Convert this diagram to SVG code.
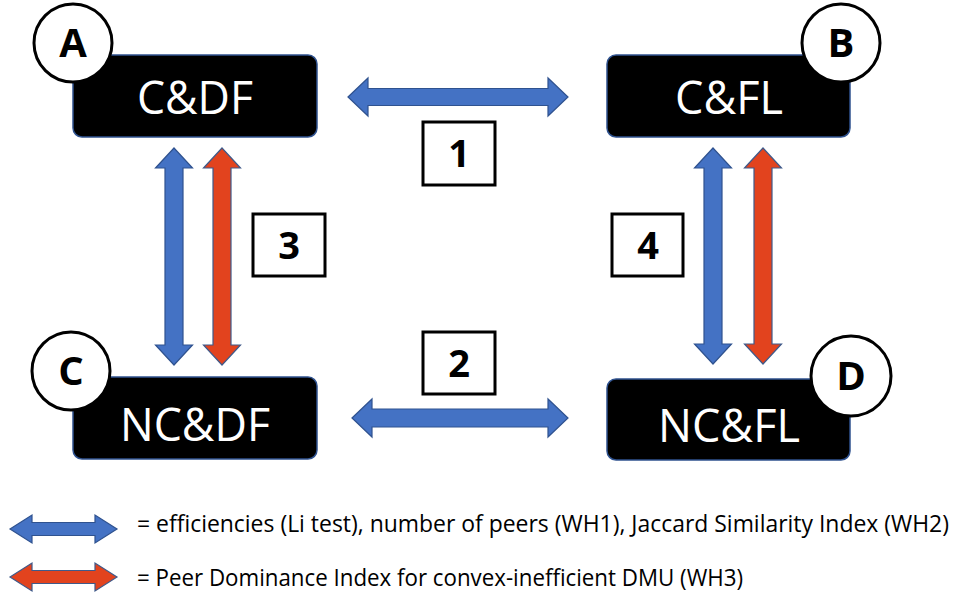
<svg xmlns="http://www.w3.org/2000/svg" width="957" height="600" viewBox="0 0 957 600">
<style>
.box{fill:#000;stroke:#2F528F;stroke-width:1.5}
.nodetxt{font-family:"Open Sans","Liberation Sans",sans-serif;font-size:45px;fill:#fff;text-anchor:middle}
.circ{fill:#fff;stroke:#000;stroke-width:3}
.letter{font-family:"Open Sans","Liberation Sans",sans-serif;font-weight:bold;font-size:40px;fill:#000;text-anchor:middle}
.numbox{fill:#fff;stroke:#000;stroke-width:3}
.num{font-family:"Open Sans","Liberation Sans",sans-serif;font-weight:bold;font-size:38px;fill:#000;text-anchor:middle}
.blue{fill:#4472C4;stroke:#2F528F;stroke-width:1.2}
.red{fill:#E2431E;stroke:#3F5A8A;stroke-width:1.2}
.legend{font-family:"Open Sans","Liberation Sans",sans-serif;font-size:23px;fill:#000}
</style>
<rect width="957" height="600" fill="#fff"/>

<g id="connectors">
  <polygon class="blue" points="348,97 368,78 368,88.5 548,88.5 548,78 568,97 548,116 548,105.5 368,105.5 368,116"/>
  <polygon class="blue" points="352,418 372,399 372,409 548,409 548,399 568,418 548,437 548,427 372,427 372,437"/>
  <polygon class="blue" points="174,148 192.5,168 183,168 183,345 192.5,345 174,365 155.5,345 165,345 165,168 155.5,168"/>
  <polygon class="red" points="222,148 240.5,168 231,168 231,345 240.5,345 222,365 203.5,345 213,345 213,168 203.5,168"/>
  <polygon class="blue" points="713,148 731.5,168 722,168 722,344 731.5,344 713,364 694.5,344 704,344 704,168 694.5,168"/>
  <polygon class="red" points="763,148 781.5,168 772,168 772,344 781.5,344 763,364 744.5,344 754,344 754,168 744.5,168"/>
</g>

<g id="nodeA">
  <rect class="box" x="73" y="55" width="244" height="82" rx="9"/>
  <text class="nodetxt" x="195" y="114" textLength="116" lengthAdjust="spacingAndGlyphs">C&amp;DF</text>
  <circle class="circ" cx="73" cy="43" r="39"/>
  <text class="letter" x="73" y="57">A</text>
</g>
<g id="nodeB">
  <rect class="box" x="607" y="55" width="243" height="82" rx="9"/>
  <text class="nodetxt" x="729" y="114" textLength="108" lengthAdjust="spacingAndGlyphs">C&amp;FL</text>
  <circle class="circ" cx="841" cy="43" r="39"/>
  <text class="letter" x="841" y="57">B</text>
</g>
<g id="nodeC">
  <rect class="box" x="73" y="377" width="244" height="82" rx="9"/>
  <text class="nodetxt" x="195" y="441" textLength="150" lengthAdjust="spacingAndGlyphs">NC&amp;DF</text>
  <circle class="circ" cx="71" cy="371" r="39"/>
  <text class="letter" x="71" y="385">C</text>
</g>
<g id="nodeD">
  <rect class="box" x="607" y="379" width="243" height="81" rx="9"/>
  <text class="nodetxt" x="729" y="442" textLength="142" lengthAdjust="spacingAndGlyphs">NC&amp;FL</text>
  <circle class="circ" cx="851" cy="376" r="40"/>
  <text class="letter" x="851" y="390">D</text>
</g>

<g id="label1">
  <rect class="numbox" x="423" y="122" width="72" height="63"/>
  <text class="num" x="459" y="167">1</text>
</g>
<g id="label2">
  <rect class="numbox" x="423" y="332" width="72" height="62"/>
  <text class="num" x="459" y="377">2</text>
</g>
<g id="label3">
  <rect class="numbox" x="253" y="214" width="72" height="62"/>
  <text class="num" x="289" y="259">3</text>
</g>
<g id="label4">
  <rect class="numbox" x="612" y="214" width="71" height="62"/>
  <text class="num" x="648" y="259">4</text>
</g>

<g id="legend">
  <polygon class="blue" points="10,529 32,515 32,522.5 95,522.5 95,515 117,529 95,543 95,535.5 32,535.5 32,543"/>
  <polygon class="red" points="10,577 32,563 32,570.5 95,570.5 95,563 117,577 95,591 95,583.5 32,583.5 32,591"/>
  <text class="legend" x="137" y="532" textLength="812" lengthAdjust="spacingAndGlyphs">= efficiencies (Li test), number of peers (WH1), Jaccard Similarity Index (WH2)</text>
  <text class="legend" x="137" y="586" textLength="606" lengthAdjust="spacingAndGlyphs">= Peer Dominance Index for convex-inefficient DMU (WH3)</text>
</g>
</svg>
